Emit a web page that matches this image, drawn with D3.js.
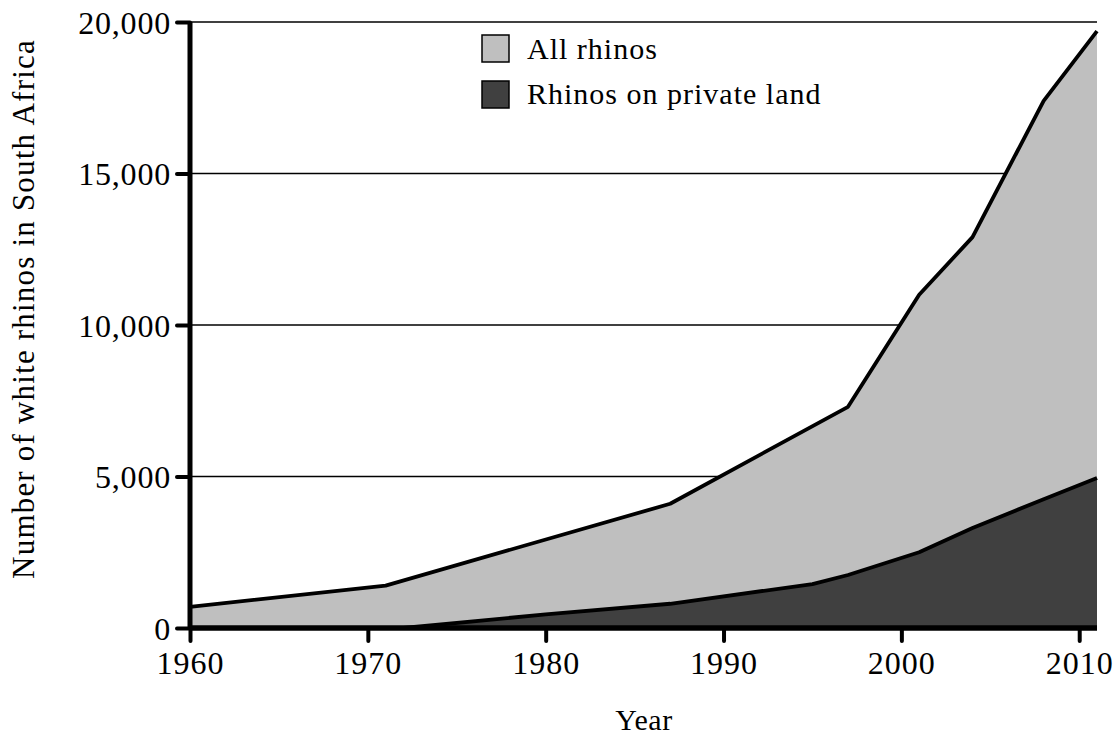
<!DOCTYPE html>
<html><head><meta charset="utf-8">
<script src="https://cdn.jsdelivr.net/npm/d3@7"></script>
<style>body{margin:0;background:#fff}svg text{font-family:"Liberation Serif",serif;fill:#000}</style>
</head><body><svg id="c" width="1119" height="738"></svg>
<script>
const allYears = [1960, 1971, 1987, 1997, 2001, 2004, 2008, 2011];
const allValues = [700, 1400, 4100, 7300, 11000, 12900, 17400, 19700];
const privYears = [1960, 1972, 1980, 1987, 1995, 1997, 2001, 2004, 2008, 2011];
const privValues = [0, 0, 450, 800, 1450, 1750, 2500, 3300, 4250, 4950];
const yTicks = [0, 5000, 10000, 15000, 20000];
const xTicks = [1960, 1970, 1980, 1990, 2000, 2010];
const seriesNames = ["All rhinos", "Rhinos on private land"];
const colors = ["#bfbfbf", "#404040"];

const svg = d3.select("#c");
const x = d3.scaleLinear().domain([1960, 2011]).range([190, 1097]);
const y = d3.scaleLinear().domain([0, 20000]).range([628, 22]);

// gridlines
svg.append("g").selectAll("line").data(yTicks.filter(d => d > 0)).join("line")
  .attr("x1", x(1960)).attr("x2", x(2011)).attr("y1", d => y(d)).attr("y2", d => y(d))
  .attr("stroke", "#000").attr("stroke-width", 1.5);

const allData = allYears.map((yr, i) => ({yr, v: allValues[i]}));
const privData = privYears.map((yr, i) => ({yr, v: privValues[i]}));
const area = d3.area().x(d => x(d.yr)).y0(y(0)).y1(d => y(d.v));
const line = d3.line().x(d => x(d.yr)).y(d => y(d.v));

svg.append("path").datum(allData).attr("d", area).attr("fill", colors[0]);
svg.append("path").datum(privData).attr("d", area).attr("fill", colors[1]);
svg.append("path").datum(allData).attr("d", line).attr("fill", "none").attr("stroke", "#000").attr("stroke-width", 3.8).attr("stroke-linejoin", "round");
svg.append("path").datum(privData).attr("d", line).attr("fill", "none").attr("stroke", "#000").attr("stroke-width", 3.8).attr("stroke-linejoin", "round");

// axes
const yAxis = d3.axisLeft(y).tickValues(yTicks).tickFormat(d3.format(",")).tickSize(13).tickPadding(6);
const gy = svg.append("g").attr("transform", `translate(${x(1960)},0)`).call(yAxis);
gy.select(".domain").remove();
gy.selectAll(".tick line").attr("stroke", "#000").attr("stroke-width", 4).attr("stroke-linecap", "round");
gy.selectAll(".tick text").attr("font-size", 32).attr("dy", "0.35em").attr("letter-spacing", 0.8).style("font-family", "Liberation Serif");

const xAxis = d3.axisBottom(x).tickValues(xTicks).tickFormat(d3.format("d")).tickSize(13).tickPadding(10);
const gx = svg.append("g").attr("transform", `translate(0,${y(0)})`).call(xAxis);
gx.select(".domain").remove();
gx.selectAll(".tick line").attr("stroke", "#000").attr("stroke-width", 4).attr("stroke-linecap", "round");
gx.selectAll(".tick text").attr("font-size", 32).attr("letter-spacing", 1).style("font-family", "Liberation Serif");

svg.append("line").attr("x1", x(1960)).attr("x2", x(1960)).attr("y1", y(20000)).attr("y2", y(0))
  .attr("stroke", "#000").attr("stroke-width", 5);
svg.append("line").attr("x1", x(1960)).attr("x2", x(2011)).attr("y1", y(0)).attr("y2", y(0))
  .attr("stroke", "#000").attr("stroke-width", 5.5);

// axis titles
svg.append("text").attr("x", 644).attr("y", 730).attr("text-anchor", "middle").attr("font-size", 30).attr("letter-spacing", 0.5).text("Year");
svg.append("text").attr("transform", "translate(34,309) rotate(-90)").attr("text-anchor", "middle")
  .attr("font-size", 31).attr("letter-spacing", 1.2).text("Number of white rhinos in South Africa");

// legend
const lg = svg.append("g");
seriesNames.forEach((n, i) => {
  lg.append("rect").attr("x", 482).attr("y", 35 + i * 46).attr("width", 27).attr("height", 27)
    .attr("fill", colors[i]).attr("stroke", "#000").attr("stroke-width", 1.5);
  lg.append("text").attr("x", 527).attr("y", 59 + i * 45).attr("font-size", 30).attr("letter-spacing", 1).text(n);
});
</script></body></html>
